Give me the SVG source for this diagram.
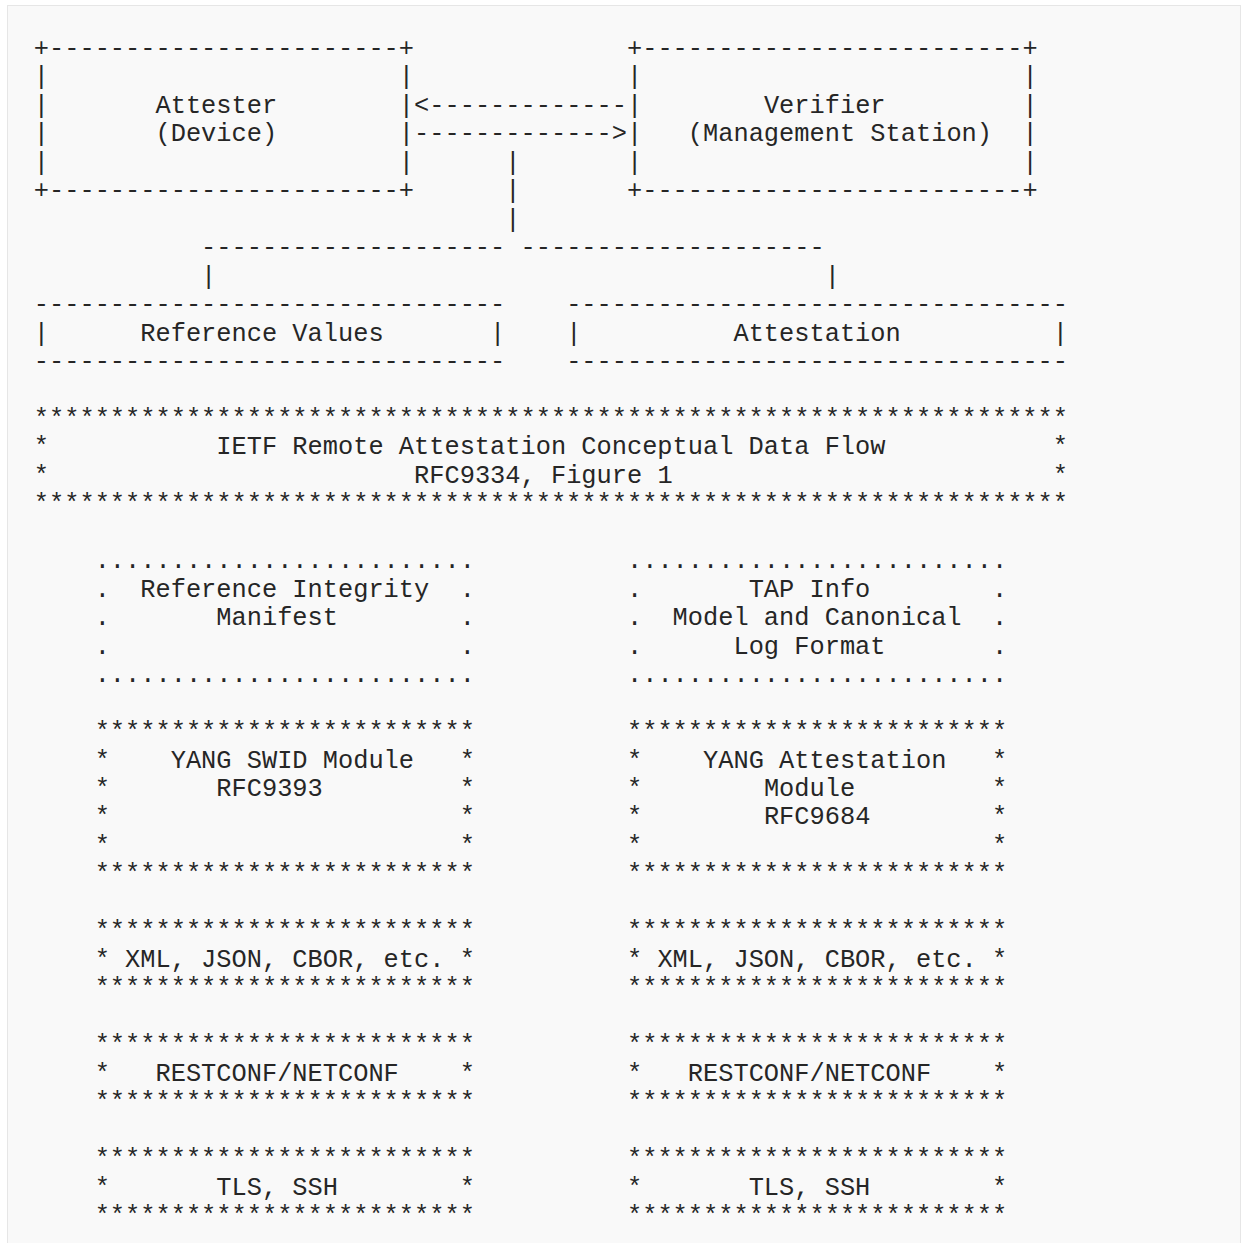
<svg xmlns="http://www.w3.org/2000/svg" width="1242" height="1243" viewBox="0 0 1242 1243">
<style>
text { font-family: "Liberation Mono", "DejaVu Sans Mono", monospace; font-size: 25.35px; fill: #262626; }
</style>
<rect width="1242" height="1243" fill="#ffffff"/>
<rect x="7.5" y="5.5" width="1233" height="1260" fill="#f9f9f9" stroke="#e6e6e6"/>

<g id="attester">
<text x="33.8" y="55.8">+-----------------------+</text>
<text x="33.8" y="84.27">|</text><text x="398.84" y="84.27">|</text>
<text x="33.8" y="112.74">|</text><text x="155.48" y="112.74">Attester</text><text x="398.84" y="112.74">|</text>
<text x="33.8" y="141.21">|</text><text x="155.48" y="141.21">(Device)</text><text x="398.84" y="141.21">|</text>
<text x="33.8" y="169.68">|</text><text x="398.84" y="169.68">|</text>
<text x="33.8" y="198.15">+-----------------------+</text>
</g>

<g id="verifier">
<text x="626.99" y="55.8">+-------------------------+</text>
<text x="626.99" y="84.27">|</text><text x="1022.45" y="84.27">|</text>
<text x="626.99" y="112.74">|</text><text x="763.88" y="112.74">Verifier</text><text x="1022.45" y="112.74">|</text>
<text x="626.99" y="141.21">|</text><text x="687.83" y="141.21">(Management Station)</text><text x="1022.45" y="141.21">|</text>
<text x="626.99" y="169.68">|</text><text x="1022.45" y="169.68">|</text>
<text x="626.99" y="198.15">+-------------------------+</text>
</g>

<g id="connectors">
<text x="414.05" y="112.74">&lt;-------------</text>
<text x="414.05" y="141.21">-------------&gt;</text>
<text x="505.31" y="169.68">|</text>
<text x="505.31" y="198.15">|</text>
<text x="505.31" y="226.62">|</text>
<text x="201.11" y="255.09">--------------------</text>
<text x="520.52" y="255.09">--------------------</text>
<text x="201.11" y="283.56">|</text>
<text x="824.72" y="283.56">|</text>
</g>

<g id="reference-values">
<text x="33.8" y="312.03">-------------------------------</text>
<text x="33.8" y="340.5">|</text><text x="140.27" y="340.5">Reference Values</text><text x="490.1" y="340.5">|</text>
<text x="33.8" y="368.97">-------------------------------</text>
</g>

<g id="attestation">
<text x="566.15" y="312.03">---------------------------------</text>
<text x="566.15" y="340.5">|</text><text x="733.46" y="340.5">Attestation</text><text x="1052.87" y="340.5">|</text>
<text x="566.15" y="368.97">---------------------------------</text>
</g>

<g id="title">
<text x="33.8" y="425.91">********************************************************************</text>
<text x="33.8" y="454.38">*</text><text x="216.32" y="454.38">IETF Remote Attestation Conceptual Data Flow</text><text x="1052.87" y="454.38">*</text>
<text x="33.8" y="482.85">*</text><text x="414.05" y="482.85">RFC9334, Figure 1</text><text x="1052.87" y="482.85">*</text>
<text x="33.8" y="511.32">********************************************************************</text>
</g>

<g id="reference-integrity-manifest">
<text x="94.64" y="568.26">.........................</text>
<text x="94.64" y="596.73">.</text><text x="140.27" y="596.73">Reference Integrity</text><text x="459.68" y="596.73">.</text>
<text x="94.64" y="625.2">.</text><text x="216.32" y="625.2">Manifest</text><text x="459.68" y="625.2">.</text>
<text x="94.64" y="653.67">.</text><text x="459.68" y="653.67">.</text>
<text x="94.64" y="682.14">.........................</text>
</g>

<g id="tap-info">
<text x="626.99" y="568.26">.........................</text>
<text x="626.99" y="596.73">.</text><text x="748.67" y="596.73">TAP Info</text><text x="992.03" y="596.73">.</text>
<text x="626.99" y="625.2">.</text><text x="672.62" y="625.2">Model and Canonical</text><text x="992.03" y="625.2">.</text>
<text x="626.99" y="653.67">.</text><text x="733.46" y="653.67">Log Format</text><text x="992.03" y="653.67">.</text>
<text x="626.99" y="682.14">.........................</text>
</g>

<g id="yang-swid-module">
<text x="94.64" y="739.08">*************************</text>
<text x="94.64" y="767.55">*</text><text x="170.69" y="767.55">YANG SWID Module</text><text x="459.68" y="767.55">*</text>
<text x="94.64" y="796.02">*</text><text x="216.32" y="796.02">RFC9393</text><text x="459.68" y="796.02">*</text>
<text x="94.64" y="824.49">*</text><text x="459.68" y="824.49">*</text>
<text x="94.64" y="852.96">*</text><text x="459.68" y="852.96">*</text>
<text x="94.64" y="881.43">*************************</text>
</g>

<g id="yang-attestation-module">
<text x="626.99" y="739.08">*************************</text>
<text x="626.99" y="767.55">*</text><text x="703.04" y="767.55">YANG Attestation</text><text x="992.03" y="767.55">*</text>
<text x="626.99" y="796.02">*</text><text x="763.88" y="796.02">Module</text><text x="992.03" y="796.02">*</text>
<text x="626.99" y="824.49">*</text><text x="763.88" y="824.49">RFC9684</text><text x="992.03" y="824.49">*</text>
<text x="626.99" y="852.96">*</text><text x="992.03" y="852.96">*</text>
<text x="626.99" y="881.43">*************************</text>
</g>

<g id="encoding-left">
<text x="94.64" y="938.37">*************************</text>
<text x="94.64" y="966.84">* XML, JSON, CBOR, etc. *</text>
<text x="94.64" y="995.31">*************************</text>
</g>

<g id="encoding-right">
<text x="626.99" y="938.37">*************************</text>
<text x="626.99" y="966.84">* XML, JSON, CBOR, etc. *</text>
<text x="626.99" y="995.31">*************************</text>
</g>

<g id="protocol-left">
<text x="94.64" y="1052.25">*************************</text>
<text x="94.64" y="1080.72">*</text><text x="155.48" y="1080.72">RESTCONF/NETCONF</text><text x="459.68" y="1080.72">*</text>
<text x="94.64" y="1109.19">*************************</text>
</g>

<g id="protocol-right">
<text x="626.99" y="1052.25">*************************</text>
<text x="626.99" y="1080.72">*</text><text x="687.83" y="1080.72">RESTCONF/NETCONF</text><text x="992.03" y="1080.72">*</text>
<text x="626.99" y="1109.19">*************************</text>
</g>

<g id="transport-left">
<text x="94.64" y="1166.13">*************************</text>
<text x="94.64" y="1194.6">*</text><text x="216.32" y="1194.6">TLS, SSH</text><text x="459.68" y="1194.6">*</text>
<text x="94.64" y="1223.07">*************************</text>
</g>

<g id="transport-right">
<text x="626.99" y="1166.13">*************************</text>
<text x="626.99" y="1194.6">*</text><text x="748.67" y="1194.6">TLS, SSH</text><text x="992.03" y="1194.6">*</text>
<text x="626.99" y="1223.07">*************************</text>
</g>
</svg>
